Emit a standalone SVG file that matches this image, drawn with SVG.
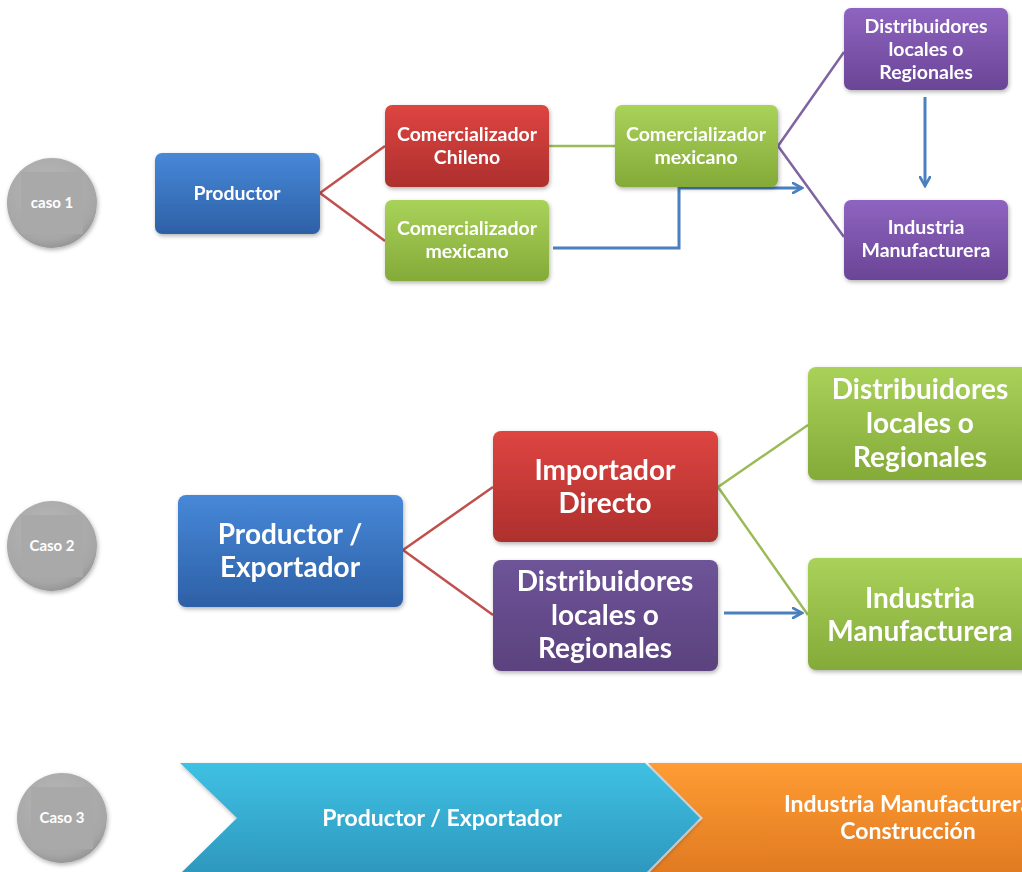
<svg xmlns="http://www.w3.org/2000/svg" width="1022" height="872" viewBox="0 0 1022 872">
<defs>
<linearGradient id="gBlue" x1="0" y1="0" x2="0" y2="1"><stop offset="0" stop-color="#4788d8"/><stop offset="1" stop-color="#2d60a6"/></linearGradient>
<linearGradient id="gRed" x1="0" y1="0" x2="0" y2="1"><stop offset="0" stop-color="#de4541"/><stop offset="1" stop-color="#ad2f2d"/></linearGradient>
<linearGradient id="gGreen" x1="0" y1="0" x2="0" y2="1"><stop offset="0" stop-color="#a9d25a"/><stop offset="1" stop-color="#84aa38"/></linearGradient>
<linearGradient id="gPurple" x1="0" y1="0" x2="0" y2="1"><stop offset="0" stop-color="#8e64c0"/><stop offset="1" stop-color="#6a4596"/></linearGradient>
<linearGradient id="gPurple2" x1="0" y1="0" x2="0" y2="1"><stop offset="0" stop-color="#6e5498"/><stop offset="1" stop-color="#5b427e"/></linearGradient>
<linearGradient id="gCyan" x1="0" y1="0" x2="0" y2="1"><stop offset="0" stop-color="#3fc1e4"/><stop offset="1" stop-color="#2e97bd"/></linearGradient>
<linearGradient id="gOrange" x1="0" y1="0" x2="0" y2="1"><stop offset="0" stop-color="#ff9c33"/><stop offset="1" stop-color="#e07a22"/></linearGradient>
<radialGradient id="gGray" cx="0.45" cy="0.35" r="0.7"><stop offset="0" stop-color="#b8b8b8"/><stop offset="0.8" stop-color="#a6a6a6"/><stop offset="1" stop-color="#8e8e8e"/></radialGradient>
<filter id="sh" x="-10%" y="-10%" width="130%" height="140%"><feDropShadow dx="1" dy="2" stdDeviation="2" flood-color="#000" flood-opacity="0.3"/></filter>
<marker id="ah" viewBox="0 0 12 12" refX="10" refY="6" markerWidth="12" markerHeight="12" markerUnits="userSpaceOnUse" orient="auto"><path d="M1,1 L10,6 L1,11" fill="none" stroke="#4a7fc0" stroke-width="2.6" stroke-linecap="round"/></marker>
</defs>
<style>
text{font-family:Lato,"Open Sans","Liberation Sans",sans-serif;font-weight:bold;fill:#fff;text-anchor:middle}
.s{font-size:19.5px}
.l{font-size:28px}
.c{font-size:15px}
.m{font-size:23px}
.box{filter:url(#sh)}
.cr{stroke:#c0504d;stroke-width:2.5;fill:none}
.cg{stroke:#9bbb59;stroke-width:2.5;fill:none}
.cp{stroke:#8064a2;stroke-width:2.5;fill:none}
.cb{stroke:#4a7fc0;stroke-width:3;fill:none;marker-end:url(#ah)}
</style>
<rect width="1022" height="872" fill="#fff"/>

<g id="connectors">
<path class="cr" d="M320,193 L385,146 M320,193 L385,241"/>
<path class="cg" d="M549,146 L615,146"/>
<path class="cp" d="M778,146 L844,52 M778,146 L844,237"/>
<path class="cb" d="M553,248 L679,248 L679,188 L802,188"/>
<path class="cb" d="M925,97 L925,186"/>
<path class="cr" d="M403,550 L493,487 M403,550 L493,615"/>
<path class="cg" d="M718,487 L808,425 M718,487 L808,615"/>
<path class="cb" d="M724,613 L802,613"/>
</g>

<g id="caso1">
<circle cx="52" cy="203" r="45" fill="url(#gGray)" class="box"/>
<rect x="21" y="172" width="62" height="62" fill="#a9a9a9"/>
<text class="c" x="52" y="208">caso 1</text>
</g>
<g id="productor1" class="box">
<rect x="155" y="153" width="165" height="81" rx="7" fill="url(#gBlue)"/>
<text class="s" x="237" y="200">Productor</text>
</g>
<g id="comChileno" class="box">
<rect x="385" y="105" width="164" height="82" rx="7" fill="url(#gRed)"/>
<text class="s" x="467" y="141">Comercializador</text>
<text class="s" x="467" y="164">Chileno</text>
</g>
<g id="comMexicano1" class="box">
<rect x="385" y="200" width="164" height="81" rx="7" fill="url(#gGreen)"/>
<text class="s" x="467" y="235">Comercializador</text>
<text class="s" x="467" y="258">mexicano</text>
</g>
<g id="comMexicano2" class="box">
<rect x="615" y="105" width="163" height="82" rx="7" fill="url(#gGreen)"/>
<text class="s" x="696" y="141">Comercializador</text>
<text class="s" x="696" y="164">mexicano</text>
</g>
<g id="distrib1" class="box">
<rect x="844" y="8" width="164" height="82" rx="7" fill="url(#gPurple)"/>
<text class="s" x="926" y="33">Distribuidores</text>
<text class="s" x="926" y="56">locales o</text>
<text class="s" x="926" y="79">Regionales</text>
</g>
<g id="industria1" class="box">
<rect x="844" y="200" width="164" height="80" rx="7" fill="url(#gPurple)"/>
<text class="s" x="926" y="234">Industria</text>
<text class="s" x="926" y="257">Manufacturera</text>
</g>

<g id="caso2">
<circle cx="52" cy="546" r="45" fill="url(#gGray)" class="box"/>
<rect x="21" y="515" width="62" height="62" fill="#a9a9a9"/>
<text class="c" x="52" y="551">Caso 2</text>
</g>
<g id="productor2" class="box">
<rect x="178" y="495" width="225" height="112" rx="8" fill="url(#gBlue)"/>
<text class="l" x="290" y="544">Productor /</text>
<text class="l" x="290" y="577">Exportador</text>
</g>
<g id="importador" class="box">
<rect x="493" y="431" width="225" height="111" rx="8" fill="url(#gRed)"/>
<text class="l" x="605" y="480">Importador</text>
<text class="l" x="605" y="513">Directo</text>
</g>
<g id="distrib2" class="box">
<rect x="493" y="560" width="225" height="111" rx="8" fill="url(#gPurple2)"/>
<text class="l" x="605" y="591">Distribuidores</text>
<text class="l" x="605" y="625">locales o</text>
<text class="l" x="605" y="658">Regionales</text>
</g>
<g id="distrib3" class="box">
<rect x="808" y="367" width="230" height="113" rx="8" fill="url(#gGreen)"/>
<text class="l" x="920" y="399">Distribuidores</text>
<text class="l" x="920" y="433">locales o</text>
<text class="l" x="920" y="467">Regionales</text>
</g>
<g id="industria2" class="box">
<rect x="808" y="558" width="230" height="112" rx="8" fill="url(#gGreen)"/>
<text class="l" x="920" y="608">Industria</text>
<text class="l" x="920" y="641">Manufacturera</text>
</g>

<g id="caso3">
<circle cx="62" cy="818" r="45" fill="url(#gGray)" class="box"/>
<rect x="31" y="787" width="62" height="62" fill="#a9a9a9"/>
<text class="c" x="62" y="823">Caso 3</text>
</g>
<g id="industria3" class="box">
<path d="M648,763 L1040,763 L1040,874 L648,874 L703,818 Z" fill="url(#gOrange)"/>
<text class="m" x="908" y="812">Industria Manufacturera</text>
<text class="m" x="908" y="839">Construcción</text>
</g>
<g id="productor3" class="box">
<path d="M180,763 L645,763 L700,818 L645,874 L180,874 L237,818 Z" fill="url(#gCyan)"/>
<text class="m" x="442" y="826">Productor / Exportador</text>
</g>
</svg>
